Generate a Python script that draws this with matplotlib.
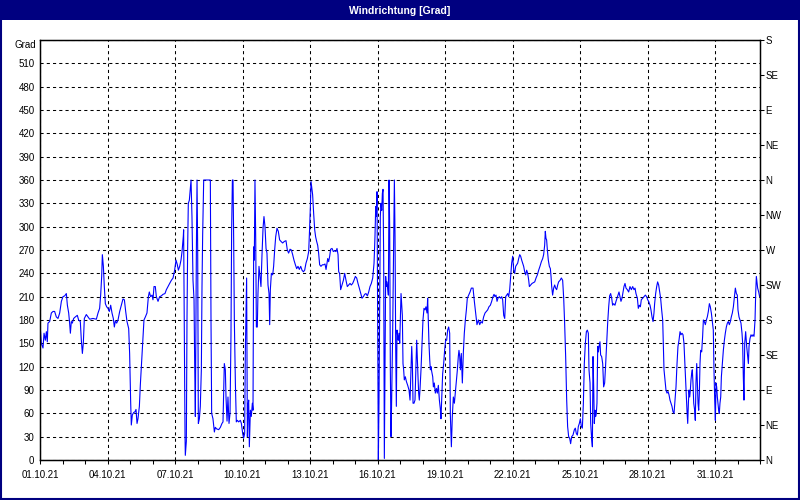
import numpy as np
import pandas as pd
import matplotlib.pyplot as plt
from matplotlib.patches import Rectangle

# Zeitraum der Messung
start = pd.Timestamp("2021-10-01")
ende = pd.Timestamp("2021-11-02")

# Windrichtung in Grad, Zeit in Stunden ab 01.10.21 00:00
h1 = [0, 1.4, 3.2, 4.3, 5.7, 6.8, 7.8, 8.5, 10.3, 12.1,
      13.9, 15.6, 17.4, 19.2, 21.0, 22.8, 24.5, 26.3, 28.1, 29.2,
      30.6, 31.6, 32.4, 33.4, 34.5, 35.9, 37.7, 39.8, 41.2, 43.0,
      44.1, 45.2, 46.2, 47.3, 49.4, 51.2, 53.0, 56.5, 60.1, 61.9,
      63.6, 64.7, 65.8, 66.5, 67.6, 68.6, 69.7, 71.1, 72.5, 74.0,
      75.4, 76.8, 78.2, 79.3, 80.4, 81.8, 83.2, 85.0, 86.8, 88.5,
      90.0, 91.4, 92.8, 94.6, 95.6, 96.7, 97.4, 98.5, 99.9, 101.3,
      102.4, 103.5, 104.5, 106.0, 107.0, 108.1, 109.5, 110.9, 112.4, 114.1,
      115.6, 116.6, 118.0, 119.5, 120.5, 121.6, 123.0, 124.1, 125.9, 127.6,
      129.4, 131.2, 133.3, 134.8, 136.5, 138.3, 140.1, 141.9, 143.6, 145.1,
      146.5, 147.6, 149.0, 150.4, 151.5, 152.9]
g1 = [176, 150, 144, 163, 154, 165, 152, 176, 178, 189,
      191, 191, 184, 182, 189, 204, 210, 211, 214, 199,
      189, 176, 163, 178, 176, 182, 184, 186, 180, 178,
      154, 137, 150, 182, 187, 184, 181, 182, 181, 189,
      195, 212, 236, 264, 249, 223, 201, 197, 195, 191,
      199, 189, 182, 171, 179, 176, 180, 191, 199, 207,
      206, 191, 178, 169, 137, 75, 45, 58, 61, 62,
      65, 47, 53, 69, 96, 120, 150, 180, 184, 189,
      210, 216, 210, 212, 206, 223, 223, 210, 204, 210,
      211, 213, 214, 219, 223, 227, 231, 234, 244, 257,
      251, 244, 249, 257, 268, 288]

h2 = [153.2, 154.0, 154.7, 155.0, 156.1, 156.8, 157.5, 158.2, 159.3, 160.4,
      161.1, 162.1, 163.2, 164.3, 165.0, 165.7, 166.8, 167.5, 168.2, 168.9,
      170.0, 171.0, 172.1, 172.8, 173.5, 174.6, 179.9, 181.7, 182.4, 183.1,
      184.5, 186.0, 187.0, 188.4, 190.6, 192.4, 194.1, 195.2, 195.9, 196.6,
      197.7, 198.4, 199.5, 200.5, 201.6, 202.7, 203.7, 204.4, 205.2, 205.9,
      206.6, 207.3, 208.4, 209.4, 210.5, 211.9, 213.7, 214.8, 216.2, 217.2,
      218.3, 219.0, 219.7, 220.4, 221.2, 221.9, 222.6, 223.3, 224.4, 225.4,
      226.5, 227.2, 227.9, 228.6, 229.3, 230.1, 230.8, 231.8, 232.5, 233.6,
      234.7, 235.7, 236.8, 237.9, 238.9, 240.0, 241.1, 242.1, 243.2, 244.3,
      245.0, 245.7, 246.8, 248.2, 249.2, 250.3, 251.4, 252.8, 254.2, 255.6,
      257.1, 258.8, 260.6, 262.4, 263.8, 265.2, 266.7, 268.1, 269.5, 270.9,
      272.4, 273.8, 275.2, 276.6, 278.1, 279.5, 280.9, 282.3, 283.7, 285.2,
      286.6, 287.6, 288.4, 289.1, 289.8, 290.8, 291.9, 293.0, 294.0, 295.1,
      296.2, 297.2, 298.3, 299.7, 301.2, 302.6, 304.0, 305.1, 306.1, 306.9]
g2 = [296, 150, 30, 6, 24, 182, 274, 330, 334, 351,
      360, 313, 231, 206, 124, 56, 270, 360, 270, 47,
      53, 69, 116, 223, 289, 360, 360, 360, 180, 60,
      53, 36, 42, 40, 39, 42, 47, 49, 88, 124,
      116, 81, 50, 81, 47, 60, 159, 294, 360, 360,
      281, 180, 99, 49, 51, 49, 51, 47, 34, 28,
      34, 137, 184, 234, 30, 69, 77, 17, 64, 56,
      73, 64, 274, 257, 360, 283, 171, 171, 214, 249,
      236, 223, 264, 298, 313, 300, 272, 266, 225, 214,
      174, 219, 240, 238, 249, 270, 287, 298, 294, 283,
      281, 279, 281, 282, 270, 266, 271, 270, 264, 257,
      251, 246, 249, 245, 249, 244, 242, 244, 253, 259,
      268, 298, 326, 358, 351, 341, 317, 296, 287, 281,
      276, 266, 251, 249, 251, 251, 252, 245, 253, 259]

h3 = [307.9, 309.0, 310.0, 311.5, 312.9, 314.3, 315.7, 316.8, 317.9, 318.6,
      319.6, 320.7, 322.1, 323.6, 325.0, 326.4, 327.8, 329.3, 330.7, 332.1,
      333.5, 334.9, 336.4, 337.8, 339.2, 340.6, 342.1, 343.5, 344.9, 346.3,
      347.7, 349.2, 350.6, 352.0, 353.4, 354.9, 356.3, 357.3, 358.1, 358.8,
      359.5, 360.2, 360.9, 361.6, 362.3, 363.0, 363.7, 364.5, 365.2, 365.9,
      366.6, 367.3, 368.0, 368.7, 369.4, 370.1, 370.9, 371.6, 372.3, 373.0,
      373.7, 374.4, 375.1, 376.2, 377.3, 378.0, 378.7, 379.4, 380.1, 380.8,
      381.5, 382.2, 382.9, 383.7, 384.4, 385.1, 385.8, 386.5, 387.2, 387.9,
      388.6, 389.7, 390.8, 392.2, 393.6, 394.7, 395.7, 396.5, 397.2, 397.9,
      398.9, 400.0, 401.1, 401.8, 402.5, 403.2, 403.9, 404.6, 405.3, 406.4,
      407.5, 408.5, 409.6, 410.7, 411.7, 412.8, 413.5, 414.2, 414.9, 415.7,
      416.4, 417.1, 417.8, 418.9, 419.6, 420.6, 421.7, 422.8, 423.8, 424.9,
      426.0, 427.0, 427.7, 428.4, 429.5, 430.6, 431.6, 432.7, 433.8, 434.8,
      435.9, 437.0, 437.7, 438.8, 439.8, 440.9, 442.0, 443.0, 444.1, 445.2,
      446.2, 446.9, 447.7, 448.4, 449.4, 450.5, 451.6, 452.6, 453.7, 454.8,
      455.8, 457.3, 458.7, 460.1]
g3 = [255, 262, 271, 272, 268, 269, 268, 272, 264, 242,
      240, 219, 225, 231, 240, 231, 223, 225, 227, 225,
      227, 231, 236, 234, 227, 221, 214, 208, 210, 213,
      214, 211, 216, 223, 227, 234, 253, 287, 326, 313,
      345, 171, 0, 77, 193, 313, 330, 321, 343, 348,
      257, 2, 120, 236, 223, 229, 221, 212, 360, 298,
      116, 30, 77, 167, 287, 360, 287, 146, 69, 167,
      159, 154, 163, 150, 180, 214, 201, 186, 124, 116,
      103, 107, 101, 96, 90, 77, 116, 146, 124, 73,
      73, 77, 124, 154, 129, 107, 86, 77, 90, 116,
      150, 180, 195, 193, 197, 189, 208, 180, 150, 129,
      116, 120, 114, 107, 94, 99, 86, 92, 86, 96,
      77, 66, 53, 77, 111, 124, 141, 154, 154, 167,
      171, 163, 58, 17, 56, 81, 73, 86, 99, 116,
      133, 141, 133, 116, 137, 99, 139, 163, 180, 193,
      208, 212, 216, 221]

h4 = [461.9, 463.3, 464.7, 466.1, 467.6, 469.0, 470.4, 471.8, 473.2, 474.7,
      476.1, 477.5, 478.9, 480.4, 481.8, 483.2, 484.3, 485.3, 486.4, 487.5,
      488.5, 490.0, 491.4, 492.5, 493.5, 494.6, 495.7, 496.7, 497.8, 498.9,
      499.9, 501.0, 502.1, 503.1, 504.2, 505.3, 506.3, 507.4, 508.5, 509.5,
      510.6, 511.7, 512.7, 513.8, 514.9, 515.9, 517.0, 518.1, 519.1, 520.2,
      521.3, 522.0, 523.4, 524.8, 526.2, 527.7, 529.1, 530.5, 531.9, 533.3,
      534.8, 536.2, 537.2, 538.3, 539.0, 539.7, 540.4, 541.2, 542.2, 543.3,
      544.4, 545.1, 545.8, 546.8, 547.9, 549.0, 550.0, 551.1, 552.2, 553.2,
      554.7, 556.1, 557.5, 558.6, 559.6, 560.7, 561.8, 562.8, 563.9, 565.0,
      566.0, 567.1, 568.5, 570.0, 571.0, 572.1, 573.2, 574.2, 575.3, 576.4,
      577.4, 578.5, 579.6, 580.6, 581.7, 582.8, 583.8, 584.9, 585.6, 586.7,
      587.4, 588.4, 589.2, 589.9, 590.6, 591.3, 592.0, 592.7, 593.4, 594.1,
      594.9, 595.6, 596.3, 597.3, 598.0, 599.1, 600.2, 601.2, 602.3, 603.4,
      604.4, 605.5, 606.6, 607.6, 608.7, 609.8, 610.8, 611.9, 613.3]
g4 = [221, 204, 189, 174, 180, 174, 178, 176, 184, 189,
      191, 193, 197, 199, 204, 210, 213, 210, 212, 204,
      208, 210, 208, 210, 206, 186, 182, 210, 212, 214,
      210, 219, 236, 253, 262, 244, 240, 249, 251, 253,
      259, 264, 262, 257, 253, 249, 242, 238, 244, 240,
      231, 223, 225, 227, 228, 229, 234, 238, 244, 249,
      255, 259, 264, 276, 294, 285, 283, 270, 257, 249,
      246, 236, 223, 212, 221, 225, 221, 219, 225, 229,
      231, 234, 231, 208, 176, 133, 77, 43, 30, 28,
      21, 30, 32, 39, 41, 34, 32, 43, 47, 53,
      43, 41, 73, 124, 150, 165, 167, 163, 116, 99,
      47, 28, 17, 133, 94, 47, 64, 56, 60, 73,
      146, 139, 146, 152, 135, 133, 124, 94, 99, 124,
      150, 176, 197, 211, 214, 208, 199, 201, 199]

h5 = [614.4, 615.5, 616.5, 617.6, 618.7, 619.7, 620.8, 621.9, 622.9, 624.0,
      625.1, 626.5, 627.9, 629.3, 630.8, 632.2, 633.6, 634.7, 635.7, 637.2,
      638.2, 639.3, 640.4, 641.4, 642.9, 644.3, 645.7, 647.1, 648.2, 649.2,
      650.7, 651.7, 652.8, 653.9, 654.9, 655.6, 656.7, 657.8, 658.8, 659.9,
      661.0, 662.0, 663.1, 664.2, 664.9, 665.6, 666.7, 667.7, 668.8, 669.9,
      670.9, 672.0, 673.1, 674.1, 675.2, 676.3, 677.3, 678.4, 679.5, 680.5,
      681.6, 682.7, 683.7, 684.8, 685.9, 686.9, 688.0, 689.1, 690.1, 690.9,
      691.6, 692.3, 693.0, 693.7, 694.4, 695.1, 695.8, 696.5, 697.3, 698.3,
      699.0, 699.7, 700.5, 701.2, 701.9, 702.6, 703.3, 704.0, 704.7, 705.8,
      706.8, 707.6, 708.6, 709.7, 710.8, 711.8, 712.9, 714.0, 715.0, 716.1,
      717.2, 718.2, 718.9, 719.7, 720.4, 721.1, 721.8, 722.5, 723.2, 723.9,
      724.6, 725.3, 726.1, 726.8, 727.8, 728.9, 730.0, 731.0, 732.1, 733.2,
      734.2, 735.3, 736.4, 737.4, 738.5, 739.6, 740.6, 741.7, 742.8, 743.8,
      744.5, 745.6, 746.7, 747.7, 748.8, 749.5, 750.2, 750.9, 751.7, 752.7,
      753.8, 754.9, 755.6, 756.3, 757.3, 758.4, 759.5, 760.5, 761.6, 762.7,
      763.4, 764.1, 764.8, 765.5, 766.6, 767.6]
g5 = [204, 208, 212, 216, 210, 204, 208, 216, 223, 227,
      221, 219, 216, 223, 219, 223, 219, 221, 214, 208,
      195, 199, 197, 206, 208, 210, 212, 210, 206, 204,
      199, 193, 184, 178, 189, 201, 214, 223, 229, 225,
      216, 208, 193, 180, 150, 116, 103, 90, 86, 88,
      84, 77, 73, 69, 62, 60, 77, 94, 124, 146,
      154, 165, 161, 163, 161, 150, 120, 90, 64, 47,
      73, 90, 81, 90, 103, 111, 116, 99, 73, 64,
      51, 99, 124, 99, 73, 64, 86, 124, 141, 139,
      159, 180, 178, 174, 180, 184, 191, 201, 197, 189,
      178, 167, 116, 77, 51, 99, 94, 81, 73, 64,
      60, 73, 81, 107, 124, 141, 154, 163, 171, 176,
      178, 174, 178, 184, 189, 197, 208, 221, 214, 212,
      193, 184, 180, 176, 163, 150, 107, 77, 150, 165,
      146, 133, 124, 146, 156, 161, 159, 161, 159, 180,
      214, 236, 229, 221, 216, 210]

stunden = h1 + h2 + h3 + h4 + h5
grad = g1 + g2 + g3 + g4 + g5
zeit = start + pd.to_timedelta(stunden, unit="h")

y_ticks = list(range(0, 541, 30))
y_labels = [str(v) for v in range(0, 511, 30)] + [""]
richtung_ticks = list(range(0, 541, 45))
richtung_labels = ["N", "NE", "E", "SE", "S", "SW", "W", "NW",
                   "N", "NE", "E", "SE", "S"]
datum_ticks = pd.date_range("2021-10-01", "2021-10-31", freq="3D")
tag_ticks = pd.date_range(start, ende, freq="D")

plt.rcParams["font.family"] = ["Liberation Sans", "DejaVu Sans"]
navy = "#000080"

fig = plt.figure(figsize=(8, 5), dpi=100)
fig.patch.set_facecolor("white")
fig.patches.append(Rectangle((0, 0.96), 1, 0.04, transform=fig.transFigure,
                             facecolor=navy, edgecolor="none", zorder=0))
fig.patches.append(Rectangle((0.001, 0.002), 0.998, 0.996, transform=fig.transFigure,
                             fill=False, edgecolor=navy, linewidth=1.5, zorder=0))
fig.text(0.5, 0.979, "Windrichtung [Grad]", color="white", ha="center",
         va="center", fontsize=7.5, fontweight="bold")

ax = fig.add_axes([0.05, 0.08, 0.9, 0.84])
ax.plot(zeit, grad, color="#0000FF", linewidth=0.8)
ax.set_xlim(start, ende)
ax.set_ylim(0, 540)
ax.set_yticks(y_ticks)
ax.set_yticklabels(y_labels)
ax.set_xticks(datum_ticks)
ax.set_xticklabels([d.strftime("%d.%m.%y") for d in datum_ticks])
ax.set_xticks(tag_ticks, minor=True)
ax.set_axisbelow(True)
ax.grid(True, which="major", color="black", linestyle=(0, (3, 3)), linewidth=0.75)
ax.tick_params(axis="y", length=0, pad=4, labelsize=7)
ax.tick_params(axis="x", which="both", length=3, width=0.75, labelsize=7, pad=4)
ax.text(-0.006, 1.0, "Grad", transform=ax.transAxes, ha="right", va="top", fontsize=7)
for s in ax.spines.values():
    s.set_linewidth(1)
    s.set_color("black")

ax2 = ax.twinx()
ax2.set_ylim(0, 540)
ax2.set_yticks(richtung_ticks)
ax2.set_yticklabels(richtung_labels)
ax2.tick_params(axis="y", length=3, width=0.75, labelsize=7, pad=1)

fig.savefig("out.png", dpi=100)
